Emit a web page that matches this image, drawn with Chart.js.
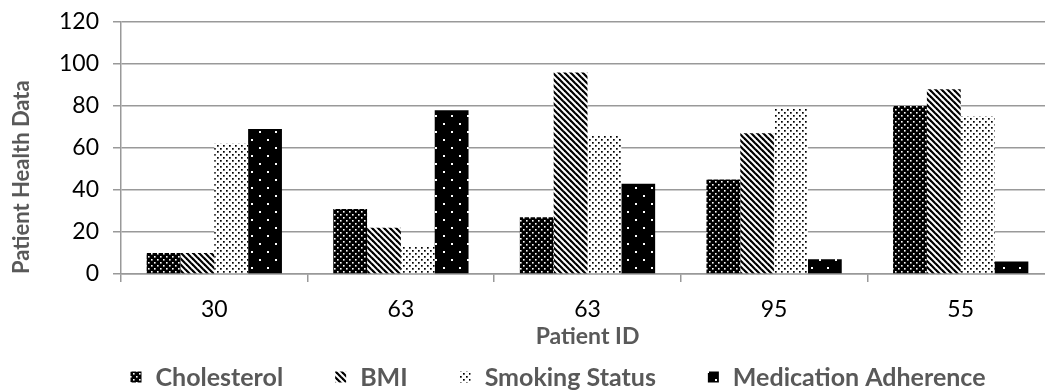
<!DOCTYPE html>
<html><head><meta charset="utf-8">
<script src="https://cdn.jsdelivr.net/npm/chart.js@4.4.1/dist/chart.umd.min.js"></script>
<style>html,body{margin:0;padding:0;overflow:hidden;background:#fff;width:1045px;height:392px}canvas{display:block}</style>
</head><body>
<canvas id="c" width="1060" height="392"></canvas>
<script>
const categories = ['30', '63', '63', '95', '55'];
const cholesterol = [10, 31, 27, 45, 80];
const bmi = [10, 22, 96, 67, 88];
const smoking = [62, 13, 66, 79, 75];
const medication = [69, 78, 43, 7, 6];
const yTicks = [0, 20, 40, 60, 80, 100, 120];
const seriesNames = ['Cholesterol', 'BMI', 'Smoking Status', 'Medication Adherence'];

function makePattern(size, draw) {
  const c = document.createElement('canvas');
  c.width = size; c.height = size;
  const g = c.getContext('2d');
  draw(g, size);
  return g.createPattern(c, 'repeat');
}
const patCholesterol = makePattern(6, (g, s) => {
  g.fillStyle = '#000'; g.fillRect(0, 0, s, s);
  g.fillStyle = '#fff'; g.fillRect(1, 1, 1.6, 1.6); g.fillRect(4, 4, 1.6, 1.6);
});
const patBMI = makePattern(6, (g, s) => {
  g.fillStyle = '#fff'; g.fillRect(0, 0, s, s);
  g.strokeStyle = '#000'; g.lineWidth = 2.2;
  for (let k = -s; k <= s; k += s) { g.beginPath(); g.moveTo(k - 1, -1); g.lineTo(k + s + 1, s + 1); g.stroke(); }
});
const patSmoking = makePattern(6, (g, s) => {
  g.fillStyle = '#fff'; g.fillRect(0, 0, s, s);
  g.fillStyle = '#000'; g.fillRect(1, 1, 1.7, 1.7); g.fillRect(4, 4, 1.7, 1.7);
});
const patMedication = makePattern(16, (g, s) => {
  g.fillStyle = '#000'; g.fillRect(0, 0, s, s);
  g.fillStyle = '#fff'; g.fillRect(3, 3, 2, 2); g.fillRect(11, 11, 2, 2);
});

const FONT = 'Lato';
const legendPlugin = {
  id: 'customLegend',
  afterDraw(chart) {
    const ctx = chart.ctx;
    ctx.save();
    ctx.font = 'bold 25px ' + FONT;
    ctx.textBaseline = 'middle';
    const box = 11, gap = 14, spacing = 52;
    const items = chart.data.datasets.map(d => ({ text: d.label, fill: d.backgroundColor, w: ctx.measureText(d.label).width }));
    const total = items.reduce((a, it) => a + box + gap + it.w, 0) + spacing * (items.length - 1);
    let x = 558 - total / 2;
    const y = 377;
    items.forEach(it => {
      ctx.fillStyle = it.fill;
      ctx.fillRect(x, y - box / 2, box, box);
      ctx.fillStyle = '#595959';
      ctx.fillText(it.text, x + box + gap, y + 1);
      x += box + gap + it.w + spacing;
    });
    ctx.restore();
  }
};

const gridColor = '#999';
new Chart(document.getElementById('c'), {
  type: 'bar',
  data: {
    labels: categories,
    datasets: [
      { label: seriesNames[0], data: cholesterol, backgroundColor: patCholesterol },
      { label: seriesNames[1], data: bmi, backgroundColor: patBMI },
      { label: seriesNames[2], data: smoking, backgroundColor: patSmoking },
      { label: seriesNames[3], data: medication, backgroundColor: patMedication }
    ]
  },
  options: {
    responsive: false,
    animation: false,
    events: [],
    categoryPercentage: 0.725,
    barPercentage: 1,
    layout: { padding: { top: 22, right: 6, bottom: 38, left: 0 } },
    plugins: { legend: { display: false }, tooltip: { enabled: false } },
    scales: {
      x: {
        grid: { display: true, drawOnChartArea: false, drawTicks: true, tickLength: 8, color: gridColor, lineWidth: 1.5 },
        border: { display: true, color: gridColor, width: 1.5 },
        ticks: { color: '#000', font: { family: FONT, size: 23 }, padding: 14, maxRotation: 0 },
        title: { display: true, text: 'Patient ID', color: '#595959', font: { family: FONT, size: 23, weight: 'bold' }, padding: { top: 0, bottom: 4 } },
        afterFit(s) { s.height = 80; s.paddingLeft = 0; s.paddingRight = 0; }
      },
      y: {
        min: 0, max: 120,
        afterBuildTicks(s) { s.ticks = yTicks.map(v => ({ value: v })); },
        grid: { color: gridColor, lineWidth: 1.5, tickLength: 8 },
        border: { display: true, color: gridColor, width: 1.5 },
        ticks: { color: '#000', font: { family: FONT, size: 23 }, padding: 14 },
        title: { display: true, text: 'Patient Health Data', color: '#595959', align: 'start', font: { family: FONT, size: 22, weight: 'bold' }, padding: { top: 9, bottom: 0 } },
        afterFit(s) { s.width = 121; s.paddingTop = 0; s.paddingBottom = 0; }
      }
    }
  },
  plugins: [legendPlugin]
});
</script>
</body></html>
